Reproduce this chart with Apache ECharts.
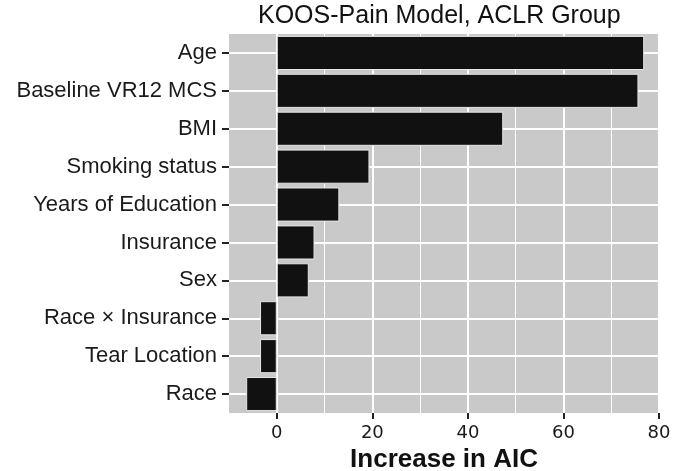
<!DOCTYPE html>
<html>
<head>
<meta charset="utf-8">
<script src="https://cdn.jsdelivr.net/npm/echarts@6/dist/echarts.min.js"></script>
<style>
html,body{margin:0;padding:0;background:#fff;}
#chart{width:674px;height:471px;}
</style>
</head>
<body>
<div id="chart"></div>
<script>
const titleText = 'KOOS-Pain Model, ACLR Group';
const xAxisTitle = 'Increase in AIC';
const categories = ['Age', 'Baseline VR12 MCS', 'BMI', 'Smoking status', 'Years of Education', 'Insurance', 'Sex', 'Race × Insurance', 'Tear Location', 'Race'];
const aicIncrease = [76.9, 75.7, 47.4, 19.4, 13.1, 7.9, 6.7, -3.5, -3.5, -6.4];
const xMajorTicks = [0, 20, 40, 60, 80];
const xMinorTicks = [10, 30, 50, 70];
const xMin = -10;
const xMax = 80;

const chart = echarts.init(document.getElementById('chart'), null, {renderer: 'canvas'});
const hiddenAxis = (vals, width) => ({
  type: 'value', min: xMin, max: xMax, position: 'top', z: 0,
  axisLine: {show: false, onZero: false},
  axisTick: {show: false, customValues: vals},
  axisLabel: {show: false, customValues: vals},
  splitLine: {show: true, lineStyle: {color: '#ffffff', width: width}}
});
const option = {
  animation: false,
  backgroundColor: '#ffffff',
  title: {
    text: titleText,
    left: 253,
    top: -1,
    textStyle: {fontFamily: 'Liberation Sans', fontSize: 25, fontWeight: 'normal', color: '#111'}
  },
  grid: [{
    left: 229, right: 15, top: 34, bottom: 58,
    outerBoundsMode: 'none', containLabel: false,
    show: true, backgroundColor: '#c9c9c9', borderWidth: 0
  }],
  xAxis: [
    {
      type: 'value', min: xMin, max: xMax, position: 'bottom', z: 5,
      axisLine: {show: false, onZero: false},
      axisTick: {show: true, length: 6, lineStyle: {color: '#222', width: 2}, customValues: xMajorTicks},
      axisLabel: {margin: 11, fontFamily: 'DejaVu Sans', fontSize: 18, color: '#1a1a1a', customValues: xMajorTicks},
      splitLine: {show: false},
      name: xAxisTitle, nameLocation: 'middle', nameGap: 30,
      nameTextStyle: {fontFamily: 'Liberation Sans', fontSize: 26, fontWeight: 'bold', color: '#111'}
    },
    hiddenAxis(xMajorTicks, 2),
    hiddenAxis(xMinorTicks, 1)
  ],
  yAxis: {
    type: 'category', data: categories, inverse: true, position: 'left',
    axisLine: {show: false, onZero: false},
    axisTick: {show: true, alignWithLabel: true, length: 7, lineStyle: {color: '#222', width: 2}},
    axisLabel: {margin: 12, fontFamily: 'Liberation Sans', fontSize: 22, color: '#1a1a1a'},
    splitLine: {show: true, alignWithLabel: true, lineStyle: {color: '#ffffff', width: 2}}
  },
  series: [{
    type: 'bar',
    xAxisIndex: 0,
    data: aicIncrease,
    barWidth: '90%',
    itemStyle: {color: '#111111', borderColor: '#e6e6e6', borderWidth: 1}
  }]
};
chart.setOption(option);
</script>
</body>
</html>
